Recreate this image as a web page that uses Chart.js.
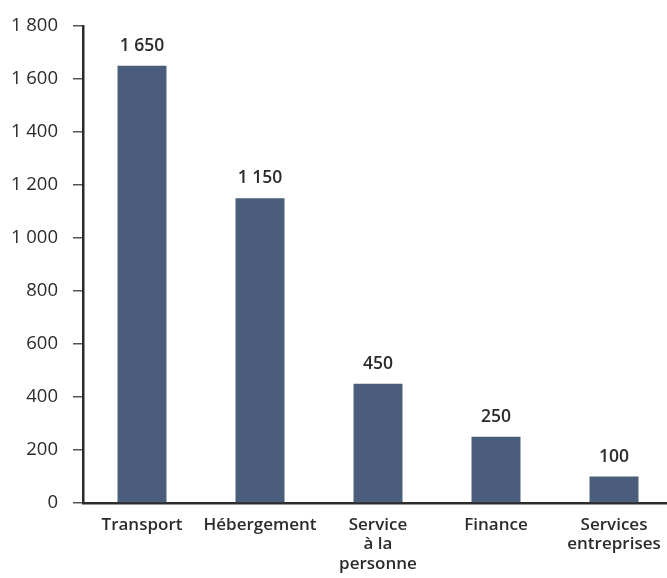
<!DOCTYPE html>
<html>
<head>
<meta charset="utf-8">
<script src="https://cdn.jsdelivr.net/npm/chart.js@4.4.1/dist/chart.umd.min.js"></script>
<style>
  html, body { margin: 0; padding: 0; background: #ffffff; overflow: hidden; }
  #wrap { width: 667px; height: 578px; overflow: hidden; position: relative; }
  canvas { display: block; }
</style>
</head>
<body>
<div id="wrap"><canvas id="c" width="675" height="578"></canvas></div>
<script>
const categories = [["Transport"], ["Hébergement"], ["Service", "à la", "personne"], ["Finance"], ["Services", "entreprises"]];
const values = [1650, 1150, 450, 250, 100];
const yTicks = [0, 200, 400, 600, 800, 1000, 1200, 1400, 1600, 1800];

const FONT = "'Open Sans', 'DejaVu Sans', sans-serif";
const TEXT = '#2b2b2b';
const BAR = '#4a5e7c';

function fmt(v) {
  return String(v).replace(/\B(?=(\d{3})+(?!\d))/g, ' ');
}

const valueLabels = {
  id: 'valueLabels',
  afterDatasetsDraw(chart) {
    const ctx = chart.ctx;
    const meta = chart.getDatasetMeta(0);
    ctx.save();
    ctx.fillStyle = TEXT;
    ctx.font = "600 17.5px " + FONT;
    ctx.textAlign = 'center';
    ctx.textBaseline = 'alphabetic';
    meta.data.forEach((bar, i) => {
      ctx.fillText(fmt(values[i]), bar.x, bar.y - 15);
    });
    ctx.restore();
  }
};

new Chart(document.getElementById('c'), {
  type: 'bar',
  data: {
    labels: categories,
    datasets: [{
      data: values,
      backgroundColor: BAR,
      borderWidth: 0,
      barPercentage: 0.415,
      categoryPercentage: 1
    }]
  },
  options: {
    responsive: false,
    animation: false,
    layout: { padding: { top: 24, right: 2, left: 0, bottom: 0 } },
    plugins: {
      legend: { display: false },
      tooltip: { enabled: false },
      title: { display: false }
    },
    scales: {
      x: {
        grid: { display: true, drawOnChartArea: false, drawTicks: false },
        border: { display: true, color: '#2b2b2b', width: 2.5 },
        ticks: {
          color: TEXT,
          font: { family: FONT, size: 17, weight: '600', lineHeight: 1.16 },
          padding: 12,
          maxRotation: 0,
          autoSkip: false
        },
        afterFit(scale) { scale.height = 75; }
      },
      y: {
        min: 0,
        max: 1800,
        afterBuildTicks(scale) { scale.ticks = yTicks.map(v => ({ value: v })); },
        grid: { display: true, drawOnChartArea: false, drawTicks: true, tickLength: 10, tickColor: '#555555', lineWidth: 1.5 },
        border: { display: true, color: '#2b2b2b', width: 2.5 },
        ticks: {
          color: TEXT,
          font: { family: FONT, size: 18.5, weight: '400' },
          padding: 15,
          callback: (v) => fmt(v)
        },
        afterFit(scale) { scale.width = 83; }
      }
    }
  },
  plugins: [valueLabels]
});
</script>
</body>
</html>
